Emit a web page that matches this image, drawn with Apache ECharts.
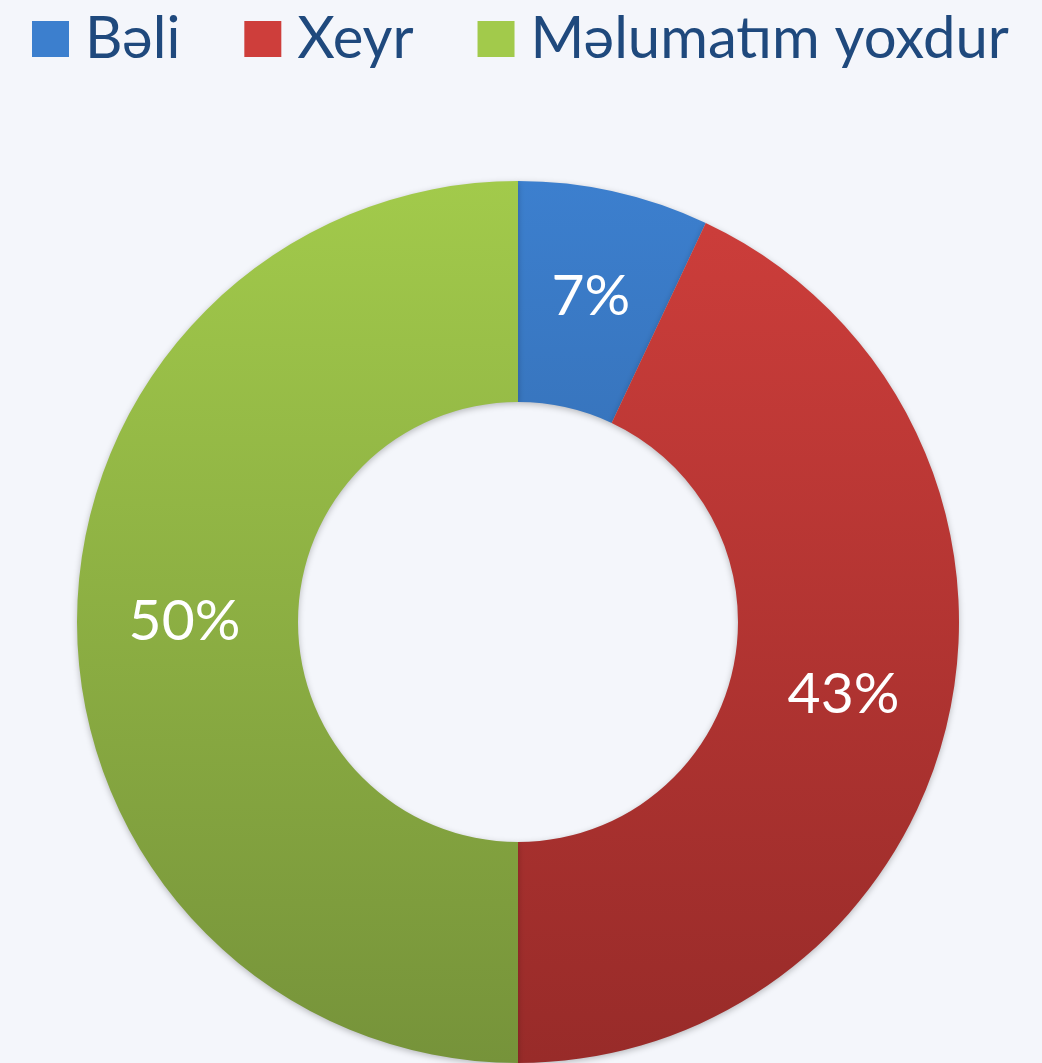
<!DOCTYPE html>
<html><head><meta charset="utf-8">
<script src="https://cdn.jsdelivr.net/npm/echarts@6/dist/echarts.min.js"></script>
<style>html,body{margin:0;padding:0;background:#F4F6FB;}#c{width:1042px;height:1063px;}</style>
</head><body><div id="c"></div>
<script>
const categories = ['Bəli', 'Xeyr', 'Məlumatım yoxdur'];
const values = [7, 43, 50];
const topColors = ['#3C7FCE', '#CE3E3B', '#A2CA4B'];
const bottomColors = ['#2C5B94', '#982B29', '#76933A'];

const chart = echarts.init(document.getElementById('c'));
const grad = (i) => ({
  type: 'linear', x: 0, y: 182, x2: 0, y2: 1063, global: true,
  colorStops: [{offset: 0, color: topColors[i]}, {offset: 1, color: bottomColors[i]}]
});
chart.setOption({
  backgroundColor: '#F4F6FB',
  legend: {
    left: 32, top: 10, width: 1010, padding: 0,
    itemWidth: 37, itemHeight: 36, itemGap: 64,
    icon: 'rect',
    textStyle: { fontFamily: 'Lato', fontSize: 58, color: '#1F497D', padding: [0, 0, 0, 11] },
    data: categories.map((c, i) => ({ name: c, itemStyle: { color: grad(i) } }))
  },
  series: [{
    type: 'pie',
    center: [518, 622],
    radius: [220, 441],
    startAngle: 90,
    clockwise: true,
    silent: true,
    label: {
      show: true, position: 'inside', color: '#FFFFFF',
      fontFamily: 'Lato', fontSize: 57,
      formatter: (p) => p.value + '%'
    },
    labelLine: { show: false },
    itemStyle: { borderWidth: 0, shadowBlur: 6, shadowColor: 'rgba(0,0,0,0.25)', shadowOffsetY: 2 },
    data: categories.map((c, i) => ({ name: c, value: values[i], itemStyle: { color: grad(i) } }))
  }]
});
</script></body></html>
